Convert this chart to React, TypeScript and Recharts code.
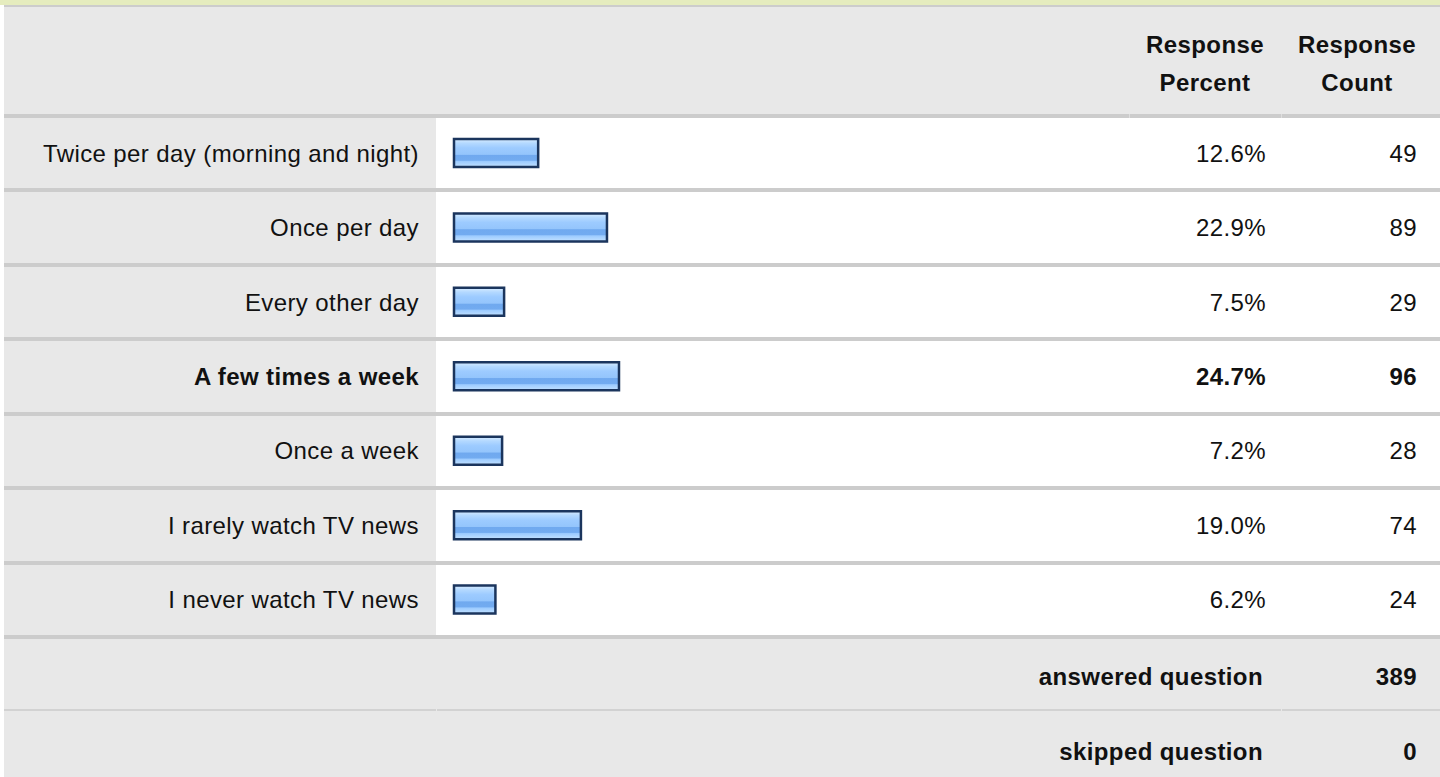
import React from "react";
import { BarChart, Bar, XAxis, YAxis } from "recharts";

const categories: string[] = [
  "Twice per day (morning and night)",
  "Once per day",
  "Every other day",
  "A few times a week",
  "Once a week",
  "I rarely watch TV news",
  "I never watch TV news"
];
const percents: number[] = [12.6, 22.9, 7.5, 24.7, 7.2, 19.0, 6.2];
const counts: number[] = [49, 89, 29, 96, 28, 74, 24];
const headerPercent: string[] = ["Response", "Percent"];
const headerCount: string[] = ["Response", "Count"];
const footerRows: { label: string; value: number }[] = [
  { label: "answered question", value: 389 },
  { label: "skipped question", value: 0 }
];

type Row = { name: string; percent: number; count: number };

const data: Row[] = categories.map((name, i) => ({
  name,
  percent: percents[i],
  count: counts[i]
}));

const topIndex = counts.indexOf(Math.max(...counts));

const FONT = "Helvetica, 'Liberation Sans', Arial, sans-serif";
const SPACING = 0.4;
const GRAY = "#e8e8e8";
const LINE = "#cccccc";

const ROWS_TOP = 114;
const ROWS_HEIGHT = 521;
const ROW_PITCH = ROWS_HEIGHT / categories.length;

const LeftTick = (props: any) => {
  const { x, y, payload } = props;
  const i = categories.indexOf(payload.value);
  return (
    <text
      x={x}
      y={y}
      dy={8.5}
      textAnchor="end"
      fontFamily={FONT}
      fontSize={24}
      letterSpacing={SPACING}
      fontWeight={i === topIndex ? 700 : 400}
      fill="#111"
    >
      {payload.value}
    </text>
  );
};

const RightTick = (props: any) => {
  const { x, y, payload } = props;
  const i = categories.indexOf(payload.value);
  const weight = i === topIndex ? 700 : 400;
  return (
    <g>
      <text x={x + 144} y={y} dy={8.5} textAnchor="end" fontFamily={FONT} fontSize={24} letterSpacing={SPACING} fontWeight={weight} fill="#111">
        {percents[i].toFixed(1) + "%"}
      </text>
      <text x={x + 295} y={y} dy={8.5} textAnchor="end" fontFamily={FONT} fontSize={24} letterSpacing={SPACING} fontWeight={weight} fill="#111">
        {counts[i]}
      </text>
    </g>
  );
};

const hLine = (top: number, height: number, color: string, gaps: number[] = [], gapColor = "#dedede") => {
  const edges = [4, ...gaps, 1440];
  const segs = [];
  for (let k = 0; k < edges.length - 1; k++) {
    const left = k === 0 ? edges[k] : edges[k] + 1;
    segs.push(
      <div
        key={top + "-" + k}
        style={{ position: "absolute", left, top, width: edges[k + 1] - left, height, background: color }}
      />
    );
  }
  gaps.forEach((g) =>
    segs.push(
      <div key={top + "-g" + g} style={{ position: "absolute", left: g, top, width: 1, height, background: gapColor }} />
    )
  );
  return segs;
};

const App = () => {
  return (
    <div
      style={{
        position: "absolute",
        left: 0,
        top: 0,
        width: 1440,
        height: 777,
        overflow: "hidden",
        background: "#fff",
        fontFamily: FONT,
        letterSpacing: SPACING,
        color: "#111"
      }}
    >
      {/* top band + header */}
      <div style={{ position: "absolute", left: 0, top: 0, width: 1440, height: 5, background: "#e5ecbe" }} />
      <div style={{ position: "absolute", left: 4, top: 5, width: 1436, height: 2, background: LINE }} />
      <div style={{ position: "absolute", left: 4, top: 7, width: 1436, height: ROWS_TOP - 7, background: GRAY }} />
      <div
        style={{
          position: "absolute", left: 1129, top: 26, width: 152, textAlign: "center",
          fontSize: 24, lineHeight: "38px", fontWeight: 700
        }}
      >
        {headerPercent.map((t) => <div key={t}>{t}</div>)}
      </div>
      <div
        style={{
          position: "absolute", left: 1281, top: 26, width: 152, textAlign: "center",
          fontSize: 24, lineHeight: "38px", fontWeight: 700
        }}
      >
        {headerCount.map((t) => <div key={t}>{t}</div>)}
      </div>

      {/* label column background */}
      <div style={{ position: "absolute", left: 4, top: ROWS_TOP, width: 432, height: ROWS_HEIGHT + 4, background: GRAY }} />

      {/* row separators */}
      {categories.map((_, k) => hLine(Math.round(ROWS_TOP + k * ROW_PITCH), 4, LINE, k === 0 ? [1129, 1281] : []))}
      {hLine(ROWS_TOP + ROWS_HEIGHT, 4, LINE)}

      {/* chart rows */}
      <div style={{ position: "absolute", left: 4, top: ROWS_TOP + 2 }}>
        <BarChart
          width={1436}
          height={ROWS_HEIGHT}
          data={data}
          layout="vertical"
          margin={{ top: 0, right: 0, bottom: 0, left: 18 }}
          barCategoryGap={0}
        >
          <defs>
            <linearGradient id="barGrad" x1="0" y1="0" x2="0" y2="1">
              <stop offset="0%" stopColor="#d8ecff" />
              <stop offset="15%" stopColor="#b4d9ff" />
              <stop offset="32%" stopColor="#9dcbff" />
              <stop offset="55%" stopColor="#94c5fc" />
              <stop offset="58%" stopColor="#70a9ef" />
              <stop offset="76%" stopColor="#72abf0" />
              <stop offset="80%" stopColor="#9ccbff" />
              <stop offset="100%" stopColor="#c2e1ff" />
            </linearGradient>
          </defs>
          <XAxis type="number" domain={[0, 100]} hide />
          <YAxis
            yAxisId="left"
            type="category"
            dataKey="name"
            width={432}
            axisLine={false}
            tickLine={false}
            tickSize={0}
            tickMargin={35}
            interval={0}
            tick={<LeftTick />}
          />
          <YAxis
            yAxisId="right"
            orientation="right"
            type="category"
            dataKey="name"
            width={318}
            axisLine={false}
            tickLine={false}
            tickSize={0}
            tickMargin={0}
            interval={0}
            tick={<RightTick />}
          />
          <Bar
            yAxisId="left"
            dataKey="percent"
            barSize={28}
            fill="url(#barGrad)"
            stroke="#1b355d"
            strokeWidth={2.5}
            isAnimationActive={false}
          />
        </BarChart>
      </div>

      {/* footer */}
      <div style={{ position: "absolute", left: 4, top: ROWS_TOP + ROWS_HEIGHT + 4, width: 1436, height: 200, background: GRAY }} />
      {hLine(709, 2, "#d2d2d2", [436, 1281], GRAY)}
      {footerRows.map((r, k) => (
        <React.Fragment key={r.label}>
          <div
            style={{
              position: "absolute", right: 1440 - 1263, top: 665 + k * 75, fontSize: 24,
              lineHeight: "24px", fontWeight: 700, whiteSpace: "nowrap"
            }}
          >
            {r.label}
          </div>
          <div
            style={{
              position: "absolute", right: 1440 - 1417, top: 665 + k * 75, fontSize: 24,
              lineHeight: "24px", fontWeight: 700
            }}
          >
            {r.value}
          </div>
        </React.Fragment>
      ))}
    </div>
  );
};

export default App;
